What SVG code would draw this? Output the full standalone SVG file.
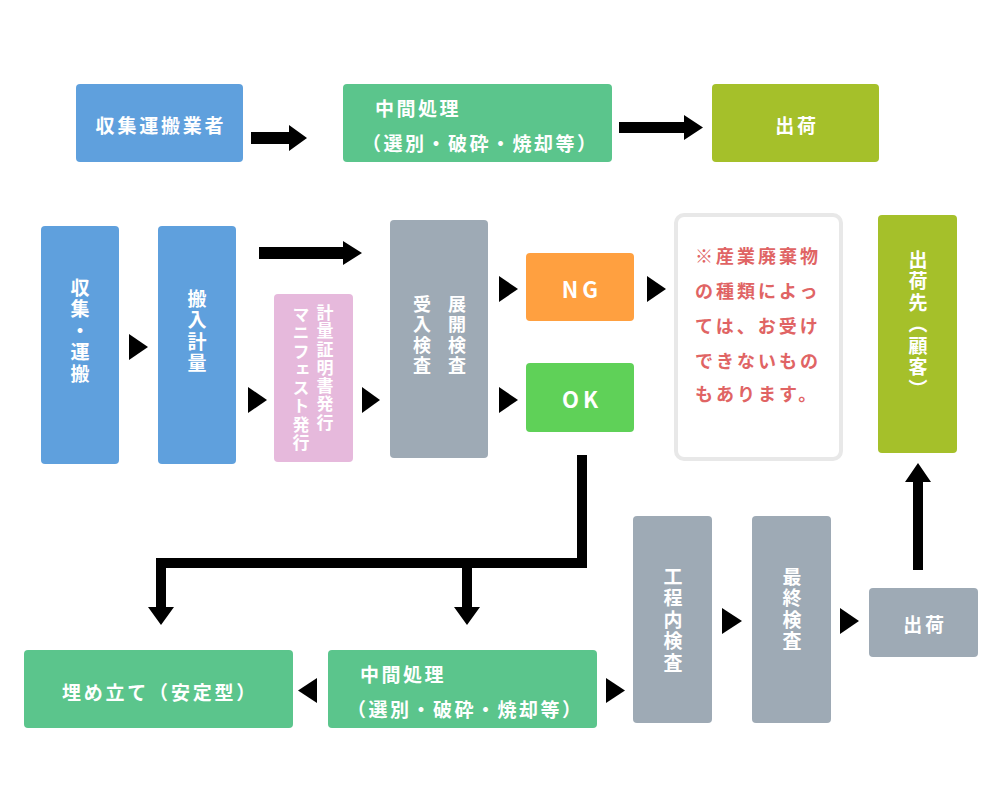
<svg xmlns="http://www.w3.org/2000/svg" width="1000" height="800" viewBox="0 0 1000 800">
<style>
.t{font-family:"Noto Sans CJK JP","Noto Sans",sans-serif;font-weight:700;fill:#ffffff;}
.h{text-anchor:middle;dominant-baseline:central;font-size:19px;letter-spacing:2.8px;}
.l{dominant-baseline:central;font-size:19px;letter-spacing:2.5px;}
.v{writing-mode:vertical-rl;font-size:19px;letter-spacing:2.5px;}
.v2{writing-mode:vertical-rl;font-size:18px;letter-spacing:2.5px;}
.v3{writing-mode:vertical-rl;font-size:17px;letter-spacing:1.3px;}
.en{text-anchor:middle;dominant-baseline:central;font-size:22px;letter-spacing:4px;}
.blue{fill:#5fa0dd;}
.green{fill:#5bc58c;}
.olive{fill:#a5c02a;}
.gray{fill:#9eaab5;}
.pink{fill:#e6b9dc;}
.note{font-family:"Noto Sans CJK JP","Noto Sans",sans-serif;font-weight:700;fill:#e06464;font-size:18px;letter-spacing:3px;dominant-baseline:central;}
.c{fill:#000000;}
</style>
<rect width="1000" height="800" fill="#ffffff"/>

<g id="n-collector">
<rect class="blue" x="76" y="84" width="167" height="78" rx="4"/>
<text class="t h" x="161" y="124">収集運搬業者</text>
</g>
<g id="n-mid-top">
<rect class="green" x="343" y="84" width="269" height="78" rx="4"/>
<text class="t l" x="375" y="107">中間処理</text>
<text class="t l" x="362" y="142">（選別・破砕・焼却等）</text>
</g>
<g id="n-ship-top">
<rect class="olive" x="712" y="84" width="167" height="78" rx="4"/>
<text class="t h" x="797" y="124">出荷</text>
</g>

<g id="n-collect">
<rect class="blue" x="41" y="226" width="78" height="238" rx="4"/>
<text class="t v" x="80" y="278">収集・運搬</text>
</g>
<g id="n-weigh">
<rect class="blue" x="158" y="226" width="78" height="238" rx="4"/>
<text class="t v" x="197" y="289">搬入計量</text>
</g>
<g id="n-cert">
<rect class="pink" x="274" y="294" width="79" height="168" rx="4"/>
<text class="t v3" x="325" y="304">計量証明書発行</text>
<text class="t v3" x="301" y="306">マニフェスト発行</text>
</g>
<g id="n-inspect">
<rect class="gray" x="390" y="220" width="98" height="238" rx="4"/>
<text class="t v2" x="422" y="295">受入検査</text>
<text class="t v2" x="457" y="295">展開検査</text>
</g>
<g id="n-ng">
<rect x="526" y="253" width="108" height="68" rx="4" fill="#ffa040"/>
<text class="t en" x="582" y="288">NG</text>
</g>
<g id="n-ok">
<rect x="526" y="363" width="108" height="69" rx="4" fill="#5fd158"/>
<text class="t en" x="582" y="398">OK</text>
</g>
<g id="n-note">
<rect x="676" y="215" width="165" height="244" rx="8" fill="#ffffff" stroke="#e8e8e8" stroke-width="4"/>
<text class="note" x="695" y="255">※産業廃棄物</text>
<text class="note" x="695" y="290">の種類によっ</text>
<text class="note" x="695" y="325">ては、お受け</text>
<text class="note" x="695" y="360">できないもの</text>
<text class="note" x="695" y="393">もあります。</text>
</g>
<g id="n-customer">
<rect class="olive" x="878" y="215" width="79" height="238" rx="4"/>
<text class="t v" x="918" y="250">出荷先（顧客）</text>
</g>

<g id="n-landfill">
<rect class="green" x="24" y="650" width="269" height="78" rx="4"/>
<text class="t h" x="160" y="691">埋め立て（安定型）</text>
</g>
<g id="n-mid-bottom">
<rect class="green" x="328" y="650" width="269" height="78" rx="4"/>
<text class="t l" x="360" y="673">中間処理</text>
<text class="t l" x="347" y="708">（選別・破砕・焼却等）</text>
</g>
<g id="n-process-insp">
<rect class="gray" x="633" y="516" width="79" height="207" rx="4"/>
<text class="t v" x="673" y="567">工程内検査</text>
</g>
<g id="n-final-insp">
<rect class="gray" x="752" y="516" width="79" height="207" rx="4"/>
<text class="t v" x="792" y="567">最終検査</text>
</g>
<g id="n-ship-bottom">
<rect class="gray" x="869" y="588" width="109" height="69" rx="4"/>
<text class="t h" x="925" y="623">出荷</text>
</g>

<g id="connectors">
<path class="c" d="M251,132 H289 V125 L307,138 L289,151 V144 H251 Z"/>
<path class="c" d="M619,122 H684 V115 L703,127.5 L684,140 V133 H619 Z"/>
<path class="c" d="M259,247 H343 V241 L362,253 L343,265 V259 H259 Z"/>
<path class="c" d="M913,570 V482 H905 L918,463 L931,482 H923 V570 Z"/>
<path class="c" d="M577,455 H587 V568 H472 V607 H480 L467,625 L454,607 H462 V568 H166 V607 H174 L161,625 L148,607 H156 V558 H577 Z"/>
<polygon class="c" points="129,334 148,347 129,360"/>
<polygon class="c" points="248,387 267,400 248,413"/>
<polygon class="c" points="362,387 380,400 362,413"/>
<polygon class="c" points="499,276 518,289 499,302"/>
<polygon class="c" points="499,387 518,400 499,413"/>
<polygon class="c" points="647,276 666,289 647,302"/>
<polygon class="c" points="722,608 742,621 722,634"/>
<polygon class="c" points="840,608 859,621 840,634"/>
<polygon class="c" points="317,678 298,690.5 317,703"/>
<polygon class="c" points="606,678 625,690.5 606,703"/>
</g>
</svg>
